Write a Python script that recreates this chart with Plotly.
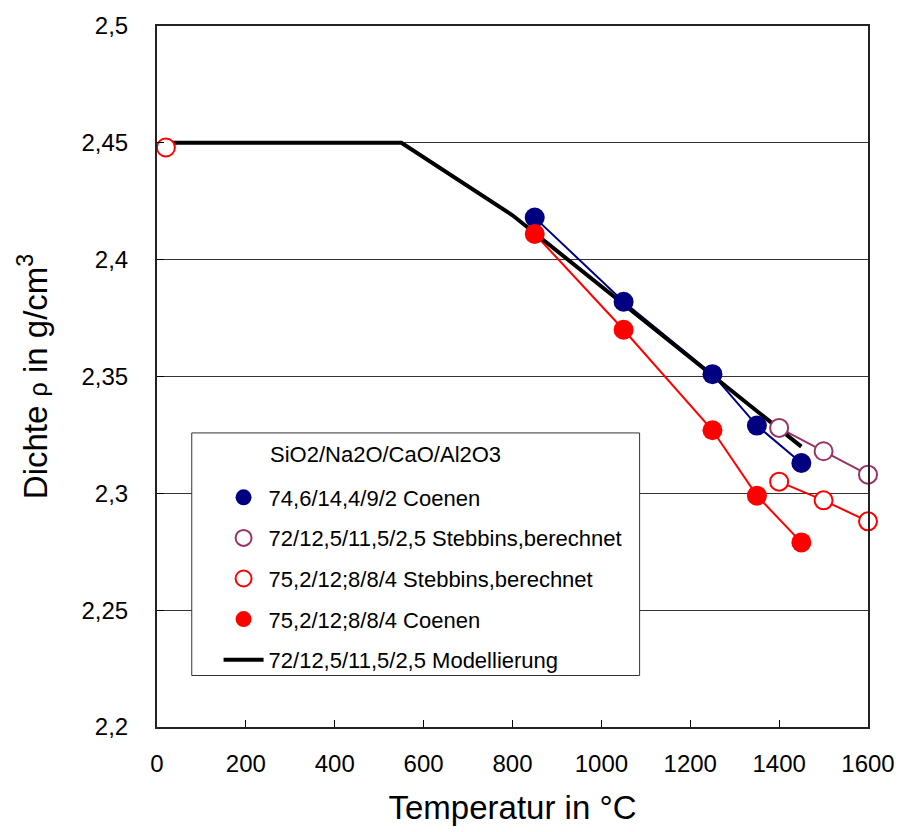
import plotly.graph_objects as go

# ---- data ----
t_coenen = [850, 1050, 1250, 1350, 1450]
rho_coenen_746 = [2.418, 2.382, 2.351, 2.329, 2.313]
rho_coenen_752 = [2.411, 2.370, 2.327, 2.299, 2.279]

t_stebbins = [1400, 1500, 1600]
rho_stebbins_72 = [2.328, 2.318, 2.308]

t_stebbins_752 = [20, None, 1400, 1500, 1600]
rho_stebbins_752 = [2.448, None, 2.305, 2.297, 2.288]

t_model = [20, 550, 800, 1450]
rho_model = [2.45, 2.45, 2.419, 2.320]

x_ticks = [0, 200, 400, 600, 800, 1000, 1200, 1400, 1600]
y_ticks = [2.2, 2.25, 2.3, 2.35, 2.4, 2.45, 2.5]
y_ticktext = ["2,2", "2,25", "2,3", "2,35", "2,4", "2,45", "2,5"]

names = [
    "74,6/14,4/9/2 Coenen",
    "72/12,5/11,5/2,5 Stebbins,berechnet",
    "75,2/12;8/8/4 Stebbins,berechnet",
    "75,2/12;8/8/4 Coenen",
    "72/12,5/11,5/2,5 Modellierung",
]
legend_title = "SiO2/Na2O/CaO/Al2O3"

NAVY = "#000080"
PLUM = "#993366"
RED = "#FF0000"

fig = go.Figure()

# connecting lines (no legend)
fig.add_trace(go.Scatter(x=t_coenen, y=rho_coenen_746, mode="lines",
                         line=dict(color=NAVY, width=2), showlegend=False, legendgroup="g1"))
fig.add_trace(go.Scatter(x=t_stebbins, y=rho_stebbins_72, mode="lines",
                         line=dict(color=PLUM, width=2), showlegend=False, legendgroup="g2"))
fig.add_trace(go.Scatter(x=t_stebbins_752, y=rho_stebbins_752, mode="lines",
                         line=dict(color=RED, width=2), showlegend=False, legendgroup="g3",
                         connectgaps=False))
fig.add_trace(go.Scatter(x=t_coenen, y=rho_coenen_752, mode="lines",
                         line=dict(color=RED, width=2), showlegend=False, legendgroup="g4"))

# model line
fig.add_trace(go.Scatter(x=t_model, y=rho_model, mode="lines", name=names[4],
                         line=dict(color="black", width=4), legendgroup="g5"))

# markers
fig.add_trace(go.Scatter(x=t_coenen, y=rho_coenen_746, mode="markers", name=names[0],
                         marker=dict(color=NAVY, size=20), legendgroup="g1"))
fig.add_trace(go.Scatter(x=t_stebbins, y=rho_stebbins_72, mode="markers", name=names[1],
                         marker=dict(color="white", size=18, symbol="circle",
                                     line=dict(color=PLUM, width=2)), legendgroup="g2"))
fig.add_trace(go.Scatter(x=t_stebbins_752, y=rho_stebbins_752, mode="markers", name=names[2],
                         marker=dict(color="white", size=18, symbol="circle",
                                     line=dict(color=RED, width=2)), legendgroup="g3"))
fig.add_trace(go.Scatter(x=t_coenen, y=rho_coenen_752, mode="markers", name=names[3],
                         marker=dict(color=RED, size=20), legendgroup="g4"))

fig.update_traces(cliponaxis=False)

FONT = "Liberation Sans, Arial, sans-serif"

# legend box
L, R, T, B = 157, 873, 22, 730
W, H = R - L, B - T
def px(xp):
    return (xp - L) / W
def py(yp):
    return (B - yp) / H

fig.add_shape(type="rect", xref="paper", yref="paper",
              x0=px(192), x1=px(643), y0=py(678), y1=py(433),
              line=dict(color="#333333", width=1), fillcolor="white", layer="above")
fig.add_annotation(text=legend_title, xref="paper", yref="paper",
                   x=px(269), y=py(455), xanchor="left", yanchor="middle",
                   showarrow=False, font=dict(size=22, color="black", family=FONT))

fig.update_layout(
    width=907, height=832,
    margin=dict(l=L, r=907 - R, t=T, b=832 - B),
    paper_bgcolor="white", plot_bgcolor="white",
    font=dict(family=FONT, color="black"),
    showlegend=True,
    legend=dict(
        x=px(219), y=py(477), xanchor="left", yanchor="top",
        bgcolor="rgba(0,0,0,0)", borderwidth=0,
        font=dict(size=22, family=FONT, color="black"),
        traceorder="grouped", tracegroupgap=9,
        itemwidth=40,
    ),
    xaxis=dict(
        range=[0, 1600], tickvals=x_ticks, ticks="inside", ticklen=7,
        tickcolor="black", tickwidth=1,
        showline=True, mirror=True, linecolor="#222222", linewidth=2,
        showgrid=False, zeroline=False,
        tickfont=dict(size=24, family=FONT), ticklabelstandoff=14,
        title=dict(text="Temperatur in °C", font=dict(size=33, family=FONT), standoff=20),
    ),
    yaxis=dict(
        range=[2.2, 2.5], tickvals=y_ticks, ticktext=y_ticktext, ticks="inside", ticklen=7,
        tickcolor="black", tickwidth=1,
        showline=True, mirror=True, linecolor="#222222", linewidth=2,
        showgrid=True, gridcolor="#333333", gridwidth=1, zeroline=False,
        tickfont=dict(size=24, family=FONT), ticklabelstandoff=22,
        title=dict(text="Dichte <span style='font-size:25px'>ρ</span> in g/cm<sup>3</sup>",
                   font=dict(size=33, family=FONT), standoff=24),
    ),
)

ranks = {"g1": 1, "g2": 2, "g3": 3, "g4": 4, "g5": 5}
for tr in fig.data:
    tr.legendrank = ranks[tr.legendgroup]

fig.write_html("out.html")
